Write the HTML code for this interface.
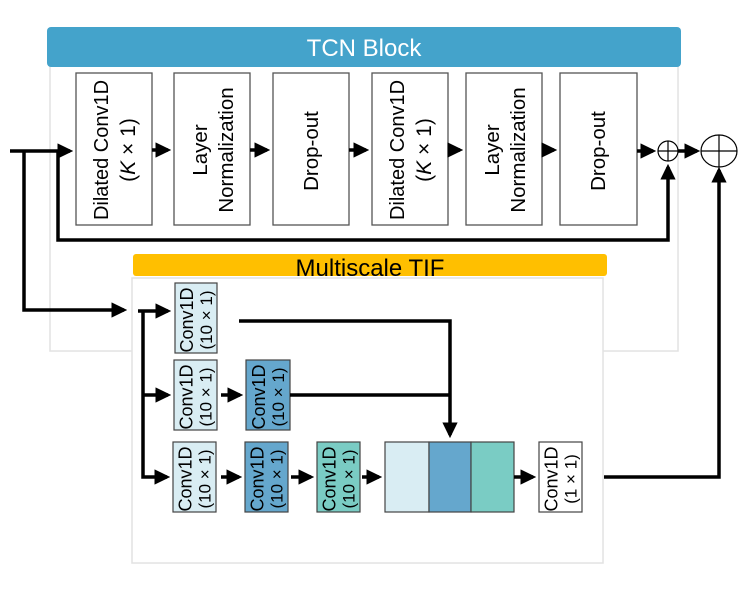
<!DOCTYPE html>
<html><head><meta charset="utf-8"><style>
html,body{margin:0;padding:0;background:#fff;}
svg{display:block;font-family:"Liberation Sans",sans-serif;}
</style></head><body>
<svg width="749" height="592" viewBox="0 0 749 592" xmlns="http://www.w3.org/2000/svg">
<defs>
<marker id="a" markerWidth="4.5" markerHeight="4.4" refX="3.6" refY="2.2" orient="auto" markerUnits="strokeWidth"><path d="M0,0 L4.5,2.2 L0,4.4 z" fill="#000"/></marker>
</defs>
<rect x="50" y="60" width="628" height="291" fill="#fff" stroke="#e2e2e2" stroke-width="1.5"/>
<rect x="47" y="27" width="634" height="40" rx="4" fill="#44a3cb"/>
<text x="364" y="56" font-size="24" fill="#fff" text-anchor="middle">TCN Block</text>

<g fill="#fff" stroke="#555" stroke-width="1.3">
<rect x="76" y="73" width="76" height="152"/>
<rect x="174" y="73" width="76" height="152"/>
<rect x="273" y="73" width="76" height="152"/>
<rect x="372" y="73" width="76" height="152"/>
<rect x="466" y="73" width="76" height="152"/>
<rect x="560" y="73" width="77" height="152"/>
</g>
<g text-anchor="middle" fill="#000">
<g transform="translate(114,150) rotate(-90)"><text x="0" y="-6" font-size="20">Dilated Conv1D</text><text x="0" y="21" font-size="21">(<tspan font-style="italic">K</tspan> × 1)</text></g>
<g transform="translate(212,150) rotate(-90)"><text x="0" y="-5" font-size="20.5">Layer</text><text x="0" y="21" font-size="20.5">Normalization</text></g>
<g transform="translate(311,151) rotate(-90)"><text x="0" y="7" font-size="20.5">Drop-out</text></g>
<g transform="translate(410,150) rotate(-90)"><text x="0" y="-6" font-size="20">Dilated Conv1D</text><text x="0" y="21" font-size="21">(<tspan font-style="italic">K</tspan> × 1)</text></g>
<g transform="translate(504,150) rotate(-90)"><text x="0" y="-5" font-size="20.5">Layer</text><text x="0" y="21" font-size="20.5">Normalization</text></g>
<g transform="translate(598,151) rotate(-90)"><text x="0" y="7" font-size="20.5">Drop-out</text></g>
</g>

<g stroke="#000" stroke-width="3.5" fill="none">
<path d="M10,151 H70" marker-end="url(#a)"/>
<path d="M24,151 V310 H124" marker-end="url(#a)"/>
<path d="M58,151 V240 H668 V167" marker-end="url(#a)"/>
<path d="M152,150 H168" marker-end="url(#a)"/>
<path d="M250,150 H267" marker-end="url(#a)"/>
<path d="M349,150 H366" marker-end="url(#a)"/>
<path d="M448,150 H460" marker-end="url(#a)"/>
<path d="M542,150 H554" marker-end="url(#a)"/>
<path d="M637,151 H653" marker-end="url(#a)"/>
<path d="M678,151 H697" marker-end="url(#a)"/>
<path d="M604,477 H719 V170" marker-end="url(#a)"/>
</g>
<g fill="#fff" stroke="#000" stroke-width="1.2">
<circle cx="668" cy="151" r="10"/>
<path d="M658,151 H678 M668,141 V161"/>
<ellipse cx="719" cy="151" rx="18" ry="16"/>
<path d="M701,151 H737 M719,135 V167"/>
</g>

<rect x="132" y="278" width="471" height="285" fill="#fff" stroke="#e2e2e2" stroke-width="1.5"/>
<rect x="133" y="254" width="474" height="22" rx="3" fill="#ffbf00"/>
<text x="370" y="276" font-size="24" fill="#000" text-anchor="middle">Multiscale TIF</text>

<g stroke="#444" stroke-width="1.2">
<rect x="175" y="283" width="42" height="70" fill="#d9edf3"/>
<rect x="174" y="360" width="43" height="70" fill="#d9edf3"/>
<rect x="246" y="360" width="44" height="70" fill="#65a7cd"/>
<rect x="173" y="442" width="43" height="70" fill="#d9edf3"/>
<rect x="245" y="442" width="43" height="70" fill="#65a7cd"/>
<rect x="317" y="442" width="43" height="70" fill="#7accc4"/>
<rect x="385" y="442" width="44" height="70" fill="#d9edf3"/>
<rect x="429" y="442" width="42" height="70" fill="#65a7cd"/>
<rect x="471" y="442" width="43" height="70" fill="#7accc4"/>
<rect x="539" y="442" width="43" height="70" fill="#fff"/>
</g>
<g text-anchor="middle" fill="#000">
<g transform="translate(196,320) rotate(-90)"><text y="-3" font-size="18">Conv1D</text><text y="16" font-size="17">(10 × 1)</text></g>
<g transform="translate(195.5,397) rotate(-90)"><text y="-3" font-size="18">Conv1D</text><text y="16" font-size="17">(10 × 1)</text></g>
<g transform="translate(268,397) rotate(-90)"><text y="-3" font-size="18">Conv1D</text><text y="16" font-size="17">(10 × 1)</text></g>
<g transform="translate(194.5,479) rotate(-90)"><text y="-3" font-size="18">Conv1D</text><text y="16" font-size="17">(10 × 1)</text></g>
<g transform="translate(266.5,479) rotate(-90)"><text y="-3" font-size="18">Conv1D</text><text y="16" font-size="17">(10 × 1)</text></g>
<g transform="translate(338.5,479) rotate(-90)"><text y="-3" font-size="18">Conv1D</text><text y="16" font-size="17">(10 × 1)</text></g>
<g transform="translate(560.5,479) rotate(-90)"><text y="-3" font-size="18">Conv1D</text><text y="16" font-size="17">(1 × 1)</text></g>
</g>

<g stroke="#000" stroke-width="3.5" fill="none">
<path d="M138,311 H168" marker-end="url(#a)"/>
<path d="M143,310 V477 H167" marker-end="url(#a)"/>
<path d="M143,395 H168" marker-end="url(#a)"/>
<path d="M239,321 H450 V435" marker-end="url(#a)"/>
<path d="M290,395 H450"/>
<path d="M221,395 H240" marker-end="url(#a)"/>
<path d="M221,477 H239" marker-end="url(#a)"/>
<path d="M291,477 H311" marker-end="url(#a)"/>
<path d="M362,477 H379" marker-end="url(#a)"/>
<path d="M514,477 H533" marker-end="url(#a)"/>
</g>
</svg>
</body></html>
